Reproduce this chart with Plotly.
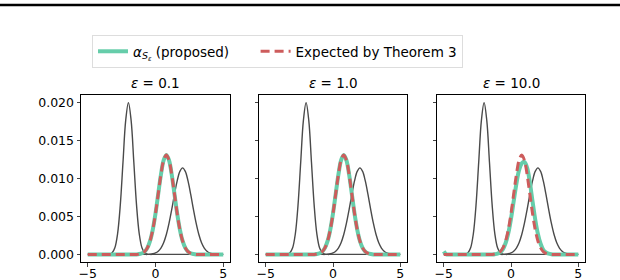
import plotly.graph_objects as go

# x grid (-5 .. 5, step 0.2)
x_grid = [-5.0, -4.8, -4.6, -4.4, -4.2, -4.0, -3.8, -3.6, -3.4, -3.2,
          -3.0, -2.8, -2.6, -2.4, -2.2, -2.0, -1.8, -1.6, -1.4, -1.2,
          -1.0, -0.8, -0.6, -0.4, -0.2, 0.0, 0.2, 0.4, 0.6, 0.8,
          1.0, 1.2, 1.4, 1.6, 1.8, 2.0, 2.2, 2.4, 2.6, 2.8,
          3.0, 3.2, 3.4, 3.6, 3.8, 4.0, 4.2, 4.4, 4.6, 4.8, 5.0]

# underlying two modes (dark gray curves)
mode_left = [0, 0, 0, 0, 0, 0, 0, 0, 0.00004, 0.00022,
             0.00088, 0.00271, 0.00649, 0.01213, 0.01765, 0.0200, 0.01765, 0.01213, 0.00649, 0.00271,
             0.00088, 0.00022, 0.00004, 0, 0, 0, 0, 0, 0, 0,
             0, 0, 0, 0, 0, 0, 0, 0, 0, 0,
             0, 0, 0, 0, 0, 0, 0, 0, 0, 0, 0]
mode_right = [0, 0, 0, 0, 0, 0, 0, 0, 0, 0,
              0, 0, 0, 0, 0, 0, 0, 0, 0, 0,
              0, 0, 0, 0.00003, 0.00008, 0.00019, 0.00042, 0.00084, 0.00154, 0.00262,
              0.00411, 0.00593, 0.0079, 0.00968, 0.01094, 0.0114, 0.01094, 0.00968, 0.0079, 0.00593,
              0.00411, 0.00262, 0.00154, 0.00084, 0.00042, 0.00019, 0.00008, 0.00003, 0, 0, 0]

# proposed alpha_{S_eps}, eps = 0.1 and 1.0
proposed_low = [0, 0, 0, 0, 0, 0, 0, 0, 0, 0,
                0, 0, 0, 0, 0, 0, 0, 0, 0, 0.00005,
                0.00015, 0.00037, 0.00086, 0.00177, 0.00327, 0.00538, 0.00795, 0.01049, 0.01239, 0.0131,
                0.01239, 0.01049, 0.00795, 0.00538, 0.00327, 0.00177, 0.00086, 0.00037, 0.00015, 0.00005,
                0, 0, 0, 0, 0, 0, 0, 0, 0, 0, 0]
# proposed alpha_{S_eps}, eps = 10.0
proposed_high = [0.0004, 0, 0, 0, 0, 0, 0, 0, 0, 0,
                 0, 0, 0, 0, 0, 0, 0, 0, 0, 0.00003,
                 0.0001, 0.0003, 0.0007, 0.0015, 0.0028, 0.0047, 0.0070, 0.0093, 0.0111, 0.0120,
                 0.0122, 0.0114, 0.0095, 0.0070, 0.0046, 0.0027, 0.0014, 0.0006, 0.00025, 0.0001,
                 0.00003, 0, 0, 0, 0, 0, 0, 0, 0, 0, 0]
# expected by Theorem 3
expected = [0, 0, 0, 0, 0, 0, 0, 0, 0, 0,
            0, 0, 0, 0, 0, 0, 0, 0, 0, 0.00005,
            0.00015, 0.00037, 0.00086, 0.00177, 0.00327, 0.00538, 0.00795, 0.01049, 0.01239, 0.0131,
            0.01239, 0.01049, 0.00795, 0.00538, 0.00327, 0.00177, 0.00086, 0.00037, 0.00015, 0.00005,
            0, 0, 0, 0, 0, 0, 0, 0, 0, 0, 0]

eps_titles = ["0.1", "1.0", "10.0"]
proposed_by_panel = [proposed_low, proposed_low, proposed_high]

x_ticks = [-5, 0, 5]
y_ticks = [0.0, 0.005, 0.010, 0.015, 0.020]

GREEN = "#66cdaa"
RED = "#cd5c5c"
GRAY = "#4a4a4a"
FONT = "DejaVu Sans"

W, H = 620, 280
x_domains = [(81, 230), (259, 407), (437, 585)]
y_dom = [1 - 262 / H, 1 - 95 / H]

fig = go.Figure()
layout = dict(
    width=W, height=H, margin=dict(l=0, r=0, t=0, b=0),
    paper_bgcolor="white", plot_bgcolor="white",
    font=dict(family=FONT, size=12.5, color="black"),
    showlegend=True,
)

annotations = []
for k in range(3):
    ax = "" if k == 0 else str(k + 1)
    xa, ya = "x" + ax, "y" + ax
    fig.add_trace(go.Scatter(x=x_grid, y=mode_left, mode="lines", line=dict(color=GRAY, width=1.4, shape="spline"),
                             showlegend=False, xaxis=xa, yaxis=ya, hoverinfo="skip"))
    fig.add_trace(go.Scatter(x=x_grid, y=mode_right, mode="lines", line=dict(color=GRAY, width=1.4, shape="spline"),
                             showlegend=False, xaxis=xa, yaxis=ya, hoverinfo="skip"))
    fig.add_trace(go.Scatter(x=x_grid, y=proposed_by_panel[k], mode="lines",
                             line=dict(color=GREEN, width=4, shape="spline"),
                             name="<i>α</i><sub><i>S</i><sub><i>ε</i></sub></sub> (proposed)" + "\u00a0" * 5,
                             showlegend=(k == 0), xaxis=xa, yaxis=ya))
    fig.add_trace(go.Scatter(x=x_grid, y=expected, mode="lines",
                             line=dict(color=RED, width=3, dash="9px,5px", shape="spline"),
                             name="Expected by Theorem 3",
                             showlegend=(k == 0), xaxis=xa, yaxis=ya))
    d0, d1 = x_domains[k]
    layout["xaxis" + ax] = dict(
        domain=[d0 / W, d1 / W], range=[-5.5, 5.5], tickvals=x_ticks,
        ticktext=["−5", "0", "5"], ticks="outside", ticklen=3.5, tickwidth=1,
        ticklabelstandoff=-4,
        showline=True, mirror=True, linecolor="black", linewidth=1, showgrid=False,
        zeroline=False, anchor=ya, fixedrange=True, automargin=False,
    )
    layout["yaxis" + ax] = dict(
        domain=y_dom, range=[-0.001, 0.021], tickvals=y_ticks,
        tickformat=".3f", showticklabels=(k == 0), ticks="outside", ticklen=3.5, tickwidth=1,
        showline=True, mirror=True, linecolor="black", linewidth=1, showgrid=False,
        zeroline=False, anchor=xa, fixedrange=True, automargin=False,
    )
    annotations.append(dict(
        text="<i>ε</i> = " + eps_titles[k], x=(d0 + d1) / 2 / W, y=1 - 83 / H,
        xref="paper", yref="paper", showarrow=False, font=dict(size=13.5, family=FONT),
        xanchor="center", yanchor="middle",
    ))

layout["annotations"] = annotations
layout["legend"] = dict(
    orientation="h", x=92 / W, y=1 - 35 / H, xanchor="left", yanchor="top",
    bordercolor="#dddddd", borderwidth=1, bgcolor="white",
    font=dict(size=13.5, family=FONT), itemwidth=30,
)
layout["shapes"] = [dict(type="line", xref="paper", yref="paper", x0=0, x1=1,
                         y0=1 - 5 / H, y1=1 - 5 / H, line=dict(color="black", width=2.5))]
fig.update_layout(**layout)
fig.write_html("out.html", config={"displayModeBar": False},
               post_script="document.body.style.margin='0';document.body.style.overflow='hidden';")
